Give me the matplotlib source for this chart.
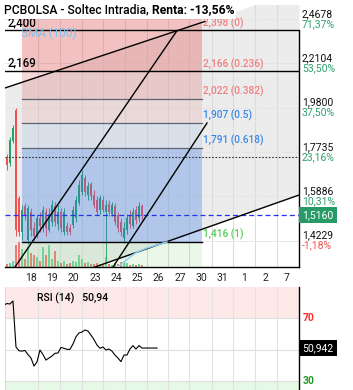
import numpy as np
import matplotlib.pyplot as plt
import matplotlib.transforms as mtransforms
from matplotlib.patches import Rectangle
from matplotlib.ticker import NullLocator

plt.rcParams['font.family'] = ['Roboto', 'DejaVu Sans']

# ======================================
# DATA
# ======================================
day_labels = ["18", "19", "20", "23", "24", "25", "26", "27", "30", "31", "1", "2", "7"]

# intraday bars (first bars are the last session of the 17th)
bar_start = -1.268
bar_step = 0.1408
opens = [1.738, 1.751, 1.725, 1.822, 1.968, 1.582, 1.453, 1.550, 1.425, 1.527,
         1.468, 1.439, 1.505, 1.468, 1.527, 1.460, 1.490, 1.550, 1.482, 1.527,
         1.453, 1.475, 1.468, 1.479, 1.505, 1.562, 1.605, 1.663, 1.593, 1.638,
         1.593, 1.574, 1.535, 1.574, 1.527, 1.558, 1.520, 1.550, 1.516, 1.490,
         1.432, 1.460, 1.512, 1.475, 1.535, 1.505, 1.550]
highs = [1.782, 1.764, 1.841, 1.896, 1.978, 1.589, 1.554, 1.562, 1.554, 1.543,
         1.490, 1.520, 1.527, 1.550, 1.543, 1.543, 1.574, 1.566, 1.554, 1.543,
         1.543, 1.490, 1.482, 1.550, 1.589, 1.654, 1.696, 1.675, 1.646, 1.646,
         1.613, 1.589, 1.593, 1.589, 1.574, 1.574, 1.566, 1.562, 1.527, 1.505,
         1.490, 1.520, 1.535, 1.543, 1.550, 1.566, 1.558]
lows = [1.704, 1.696, 1.713, 1.813, 1.439, 1.439, 1.425, 1.497, 1.410, 1.439,
        1.425, 1.432, 1.453, 1.453, 1.439, 1.453, 1.475, 1.475, 1.460, 1.453,
        1.442, 1.442, 1.442, 1.468, 1.490, 1.554, 1.593, 1.589, 1.574, 1.574,
        1.543, 1.516, 1.520, 1.527, 1.349, 1.512, 1.512, 1.479, 1.453, 1.439,
        1.414, 1.446, 1.468, 1.468, 1.482, 1.490, 1.497]
closes = [1.756, 1.717, 1.827, 1.882, 1.460, 1.453, 1.535, 1.512, 1.543, 1.460,
          1.439, 1.505, 1.475, 1.535, 1.468, 1.520, 1.554, 1.490, 1.527, 1.468,
          1.527, 1.453, 1.453, 1.535, 1.574, 1.633, 1.675, 1.605, 1.629, 1.589,
          1.554, 1.527, 1.582, 1.535, 1.554, 1.527, 1.554, 1.490, 1.468, 1.453,
          1.468, 1.505, 1.482, 1.527, 1.497, 1.550, 1.512]
volume = [2, 3, 4, 6, 22, 25, 18, 8, 20, 14, 12, 10, 6, 20, 12, 22, 8, 16, 6, 4,
          6, 3, 4, 6, 5, 12, 8, 4, 5, 3, 3, 4, 3, 2, 10, 3, 2, 4, 3, 5, 6, 4, 2,
          3, 2, 3, 2]
rsi = [78.3, 79.2, 78.9, 80.8, 51.6, 49.2, 49.0, 49.4, 46.8, 44.6, 39.5, 42.1,
       49.7, 46.8, 43.3, 44.6, 45.9, 47.6, 47.8, 51.3, 50.8, 50.1, 50.1, 53.5,
       58.1, 60.5, 61.1, 62.4, 61.7, 59.2, 56.3, 52.9, 50.8, 51.6, 49.7, 50.3,
       49.0, 46.5, 44.6, 42.3, 46.5, 46.5, 50.3, 52.5, 50.3, 52.5, 50.942]
rsi_tail_end = 5.92

last_price = 1.5160
ref_price = 1.751

# right axis
axis_prices = [2.4678, 2.2104, 1.9800, 1.7735, 1.5886, 1.4229]
axis_pct = ["71,37%", "53,50%", "37,50%", "23,16%", "10,31%", "-1,18%"]

# fibonacci drawing
fib_prices = [2.398, 2.166, 2.022, 1.907, 1.791, 1.416]
fib_ratios = ["0", "0.236", "0.382", "0.5", "0.618", "1"]
fib_x = [-0.4225, 8.028]

# horizontal lines drawn by the user
hlines = [2.400, 2.169]

# trend lines (day, price)
line_a = ([-0.751, 6.854], [1.3322, 2.398])
line_b = ([-1.2207, 8.169], [2.0795, 2.454])
line_c = ([-1.2207, 12.582], [1.231, 1.5933])
line_d = ([3.850, 8.263], [1.3322, 1.906])
# channel between b and c, taken to both edges
chan_x = [-1.2207, 12.582]
chan_top = [2.0795, 2.653]
chan_bot = [1.231, 1.5933]

sma_x = [4.038, 4.319, 4.648, 4.977, 5.446, 5.915, 6.385]
sma_y = [1.332, 1.3454, 1.3657, 1.3828, 1.3967, 1.4071, 1.4176]

grid_x = [0.33, 1.36, 2.39, 3.38, 4.41, 5.45, 6.43, 7.42, 8.50, 9.48, 10.52, 11.55]

GREEN = "#27a06a"
RED = "#f05252"

# ======================================
# FIGURE
# ======================================
fig = plt.figure(figsize=(3.53, 3.90), dpi=100)
ax = fig.add_axes([5/353, 123/390, 294/353, 262/390])
rax = fig.add_axes([5/353, 0, 294/353, 103/390])

xmin, xmax = -1.2207, 12.582
ax.set_yscale("log")
ax.set_xlim(xmin, xmax)
ax.set_ylim(1.3322, 2.5562)
ax.yaxis.set_major_locator(NullLocator())
ax.yaxis.set_minor_locator(NullLocator())

# channel background
ax.fill_between(chan_x, chan_bot, chan_top, color="#ececec", zorder=0.3, lw=0)

for g in grid_x:
    ax.axvline(g, color="#dcdcdc", lw=0.8, zorder=0.5)
    rax.axvline(g, color="#e2e2e2", lw=0.8, zorder=0.5)
for p in axis_prices:
    ax.axhline(p, color="#e4e4e4", lw=0.6, zorder=0.5)

# volume
x = bar_start + bar_step * np.arange(len(opens))
o = np.array(opens); c = np.array(closes)
up = c >= o
w = 0.09
vtrans = mtransforms.blended_transform_factory(ax.transData, ax.transAxes)
vol = np.array(volume, dtype=float)
for xi, v, u in zip(x, vol, up):
    ax.add_patch(Rectangle((xi - w/2, 0), w, v / vol.max() * 0.095, transform=vtrans,
                           facecolor="#6fd39b" if u else "#f07a72", lw=0, zorder=1))

# candles
cols = [GREEN if u else RED for u in up]
ax.vlines(x, lows, highs, colors=cols, lw=0.7, zorder=2)
ax.bar(x, np.abs(c - o), bottom=np.minimum(o, c), width=w, color=cols, lw=0, zorder=2)

# fibonacci zones
ytop, ybot = ax.get_ylim()[1], ax.get_ylim()[0]
zone_edges = [ytop] + fib_prices + [ybot]
zone_cols = [("#e06666", 0.40), ("#e06666", 0.40), ("#e06666", 0.26), ("#e06666", 0.14),
             ("#3a7be0", 0.10), ("#3a7be0", 0.33), ("#7ed67e", 0.16)]
for (zc, za), hi, lo in zip(zone_cols, zone_edges[:-1], zone_edges[1:]):
    ax.fill_between(fib_x, lo, hi, color=zc, alpha=za, lw=0, zorder=3)
for p in fib_prices[2:5]:
    ax.plot(fib_x, [p, p], color="#5f6470", lw=0.9, zorder=4)
ax.plot(fib_x, [fib_prices[-1]] * 2, color="black", lw=1, zorder=4)

fib_cols = ["#f07f7f", "#f07f7f", "#f07f7f", "#3a88e6", "#3a88e6", "#55cc55"]
for p, r, fc in zip(fib_prices, fib_ratios, fib_cols):
    ax.annotate(f"{p:.3f}".replace(".", ",") + f" ({r})", (fib_x[1], p), xytext=(1, 1.5),
                textcoords="offset points", ha="left", va="bottom", fontsize=7.3,
                weight="medium", color=fc, zorder=6)

# user horizontal lines
for h in hlines:
    ax.axhline(h, color="black", lw=1, zorder=4)
    ax.annotate(f"{h:.3f}".replace(".", ","), (xmin, h), xytext=(1.5, 1),
                textcoords="offset points", ha="left", va="bottom", fontsize=8.3,
                weight="medium", color="black", zorder=6)
ax.text(-0.45, 2.345, "SMA (100)", fontsize=8.5, color="#7fc2f0", zorder=6, va="bottom")

# reference lines
ax.axhline(ref_price, color="#333333", lw=0.8, ls=(0, (1.5, 1.5)), zorder=4)
ax.axhline(last_price, color="#2233ee", lw=0.9, ls=(0, (4, 2.5)), zorder=4)

# trend lines
for lx, ly in (line_a, line_b, line_c, line_d):
    ax.plot(lx, ly, color="black", lw=1, zorder=4)
ax.plot(sma_x, sma_y, color="#8fd3f5", lw=1.1, zorder=4)

# axes style
for s in ("top", "left"):
    ax.spines[s].set_visible(False)
ax.spines["bottom"].set_linewidth(1)
ax.spines["right"].set_linewidth(1)
ax.spines["right"].set_bounds(ybot, 2.4)
ax.set_xticks(range(len(day_labels)), day_labels)
ax.tick_params(axis="x", length=0, pad=4.5, labelsize=7.5, colors="#222222")

# right price axis labels
ytr = mtransforms.blended_transform_factory(ax.transAxes, ax.transData)
for p, pct in zip(axis_prices, axis_pct):
    ax.annotate(f"{p:.4f}".replace(".", ","), (1, p), xycoords=ytr, xytext=(2, 3.6),
                textcoords="offset points", va="center", ha="left", fontsize=7.5,
                color="#111111", annotation_clip=False)
    ax.annotate(pct, (1, p), xycoords=ytr, xytext=(2, -3.6), textcoords="offset points",
                va="center", ha="left", fontsize=7.5, annotation_clip=False,
                color="#f05050" if pct.startswith("-") else "#2ea06e")
ax.annotate(f"{last_price:.4f}".replace(".", ","), (1, last_price), xycoords=ytr,
            xytext=(2.5, 0), textcoords="offset points", va="center", ha="left",
            fontsize=7.5, color="white", annotation_clip=False,
            bbox=dict(boxstyle="square,pad=0.3", fc="#279a68", ec="none"))

# ======================================
# RSI PANEL
# ======================================
rax.set_xlim(xmin, xmax)
rax.set_ylim(24.3, 89.7)
rax.axhspan(70, 100, color="#fde8e8", lw=0, zorder=0.2)
rax.axhspan(0, 30, color="#e6f8e6", lw=0, zorder=0.2)
for lvl in (70, 50, 30):
    rax.axhline(lvl, color="#e0e0e0", lw=0.8, zorder=0.5)
rx = np.append(x, rsi_tail_end)
ry = np.append(rsi, rsi[-1])
rax.plot(rx, ry, color="black", lw=0.8, zorder=3)
rax.set_xticks([])
rax.set_yticks([])
for s in ("top", "bottom"):
    rax.spines[s].set_visible(False)
rax.spines["left"].set_color("#dddddd")
rax.spines["right"].set_linewidth(1)
rax.text(0.3, 82.5, f"RSI (14)   {rsi[-1]:.2f}".replace(".", ","), fontsize=7.5,
         weight="medium", va="center")
rtr = mtransforms.blended_transform_factory(rax.transAxes, rax.transData)
rax.annotate("70", (1, 70), xycoords=rtr, xytext=(2.5, 0), textcoords="offset points",
             va="center", fontsize=7.5, weight="bold", color="#ff2a2a", annotation_clip=False)
rax.annotate("30", (1, 30), xycoords=rtr, xytext=(2.5, 0), textcoords="offset points",
             va="center", fontsize=7.5, weight="bold", color="#1f9a1f", annotation_clip=False)
rax.annotate(f"{rsi[-1]:.3f}".replace(".", ","), (1, rsi[-1]), xycoords=rtr,
             xytext=(2.5, 0), textcoords="offset points", va="center", ha="left",
             fontsize=7.5, color="white", annotation_clip=False,
             bbox=dict(boxstyle="square,pad=0.3", fc="black", ec="none"))

# ======================================
# TITLE
# ======================================
fig.patches.append(Rectangle((0, 1 - 19/390), 236/353, 19/390, transform=fig.transFigure,
                             facecolor="white", edgecolor="none", zorder=5))
t1 = fig.text(4/353, 1 - 10/390, "PCBOLSA - Soltec Intradia, ", fontsize=8.7,
              weight="medium", va="center", zorder=6)
fig.canvas.draw()
bb = t1.get_window_extent()
fig.text(bb.x1 / fig.bbox.width, 1 - 10/390, "Renta: -13,56%", fontsize=8.7,
         weight="bold", va="center", zorder=6)

fig.savefig("out.png", dpi=100)
